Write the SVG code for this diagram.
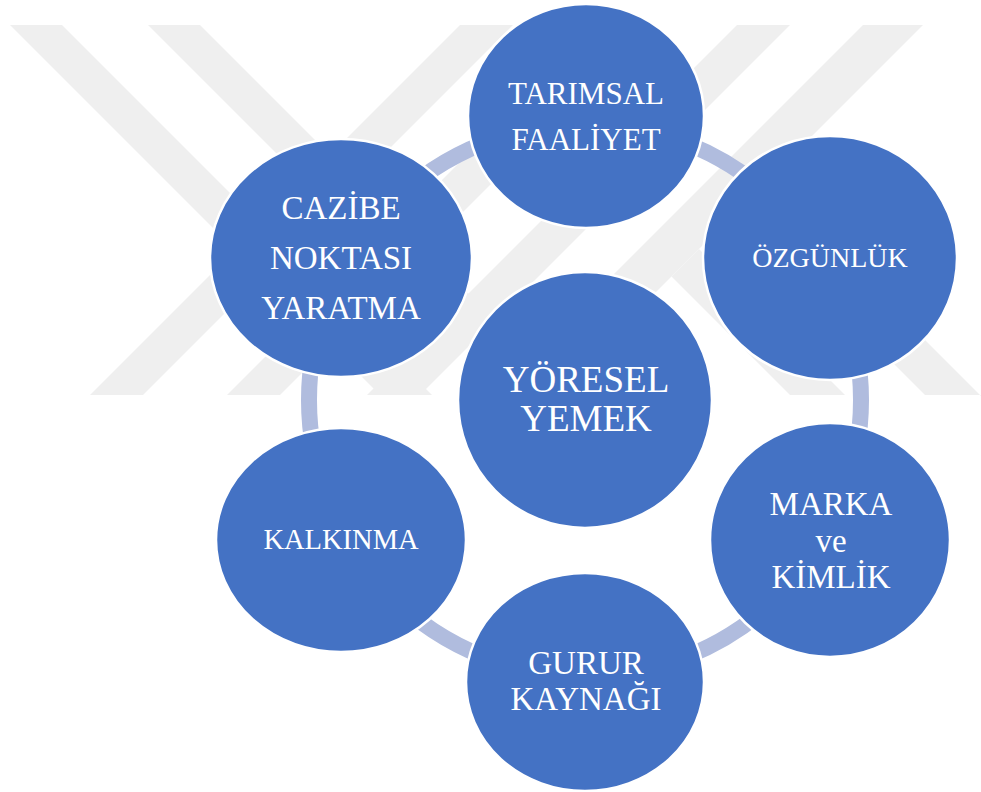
<svg xmlns="http://www.w3.org/2000/svg" width="981" height="792" viewBox="0 0 981 792">
<style>
.wm{fill:#EFEFEF}
.node{fill:#4472C4;stroke:#FFFFFF;stroke-width:2.5}
.lbl{fill:#FFFFFF;text-anchor:middle;font-family:Liberation Serif, Times New Roman, serif}
.ring{fill:none;stroke:#B0BCDE;stroke-width:16}
</style>
<rect width="981" height="792" fill="#FFFFFF"/>
<g id="watermark">
<polygon class="wm" points="10,25 62,25 432,395 380,395"/>
<polygon class="wm" points="148,25 200,25 570,395 518,395"/>
<polygon class="wm" points="460,25 513,25 143,395 90,395"/>
<polygon class="wm" points="597,25 650,25 280,395 227,395"/>
<polygon class="wm" points="737,25 790,25 420,395 367,395"/>
<polygon class="wm" points="863,25 923,25 553,395 493,395"/>
<polygon class="wm" points="671.5,276.5 699,249 845,395 790,395"/>
<polygon class="wm" points="739,209 766.5,181.5 981,396 981,395 925,395"/>
</g>
<g id="connectors">
<circle class="ring" cx="585" cy="400" r="276"/>
</g>
<g id="node-center">
<ellipse class="node" cx="585" cy="400" rx="127" ry="128"/>
<text class="lbl" font-family="Liberation Serif" font-size="37"><tspan x="586" y="392">YÖRESEL</tspan><tspan x="586" y="431">YEMEK</tspan></text>
</g>
<g id="node-tarimsal">
<ellipse class="node" cx="586" cy="116" rx="118" ry="112"/>
<text class="lbl" font-family="Liberation Serif" font-size="31"><tspan x="586" y="104">TARIMSAL</tspan><tspan x="586" y="150">FAALİYET</tspan></text>
</g>
<g id="node-ozgunluk">
<ellipse class="node" cx="830" cy="258" rx="127" ry="122"/>
<text class="lbl" font-family="Liberation Serif" font-size="28" x="830" y="267">ÖZGÜNLÜK</text>
</g>
<g id="node-marka">
<ellipse class="node" cx="830" cy="540" rx="120" ry="117"/>
<text class="lbl" font-family="Liberation Serif" font-size="33"><tspan x="831" y="515">MARKA</tspan><tspan x="831" y="552">ve</tspan><tspan x="831" y="588">KİMLİK</tspan></text>
</g>
<g id="node-gurur">
<ellipse class="node" cx="585" cy="682" rx="119" ry="109"/>
<text class="lbl" font-family="Liberation Serif" font-size="33"><tspan x="586" y="674">GURUR</tspan><tspan x="586" y="710">KAYNAĞI</tspan></text>
</g>
<g id="node-kalkinma">
<ellipse class="node" cx="341" cy="540" rx="125" ry="112"/>
<text class="lbl" font-family="Liberation Serif" font-size="28.5" x="341" y="549">KALKINMA</text>
</g>
<g id="node-cazibe">
<ellipse class="node" cx="341" cy="258" rx="131" ry="119"/>
<text class="lbl" font-family="Liberation Serif" font-size="33"><tspan x="341" y="219">CAZİBE</tspan><tspan x="341" y="269">NOKTASI</tspan><tspan x="341" y="319">YARATMA</tspan></text>
</g>
</svg>
